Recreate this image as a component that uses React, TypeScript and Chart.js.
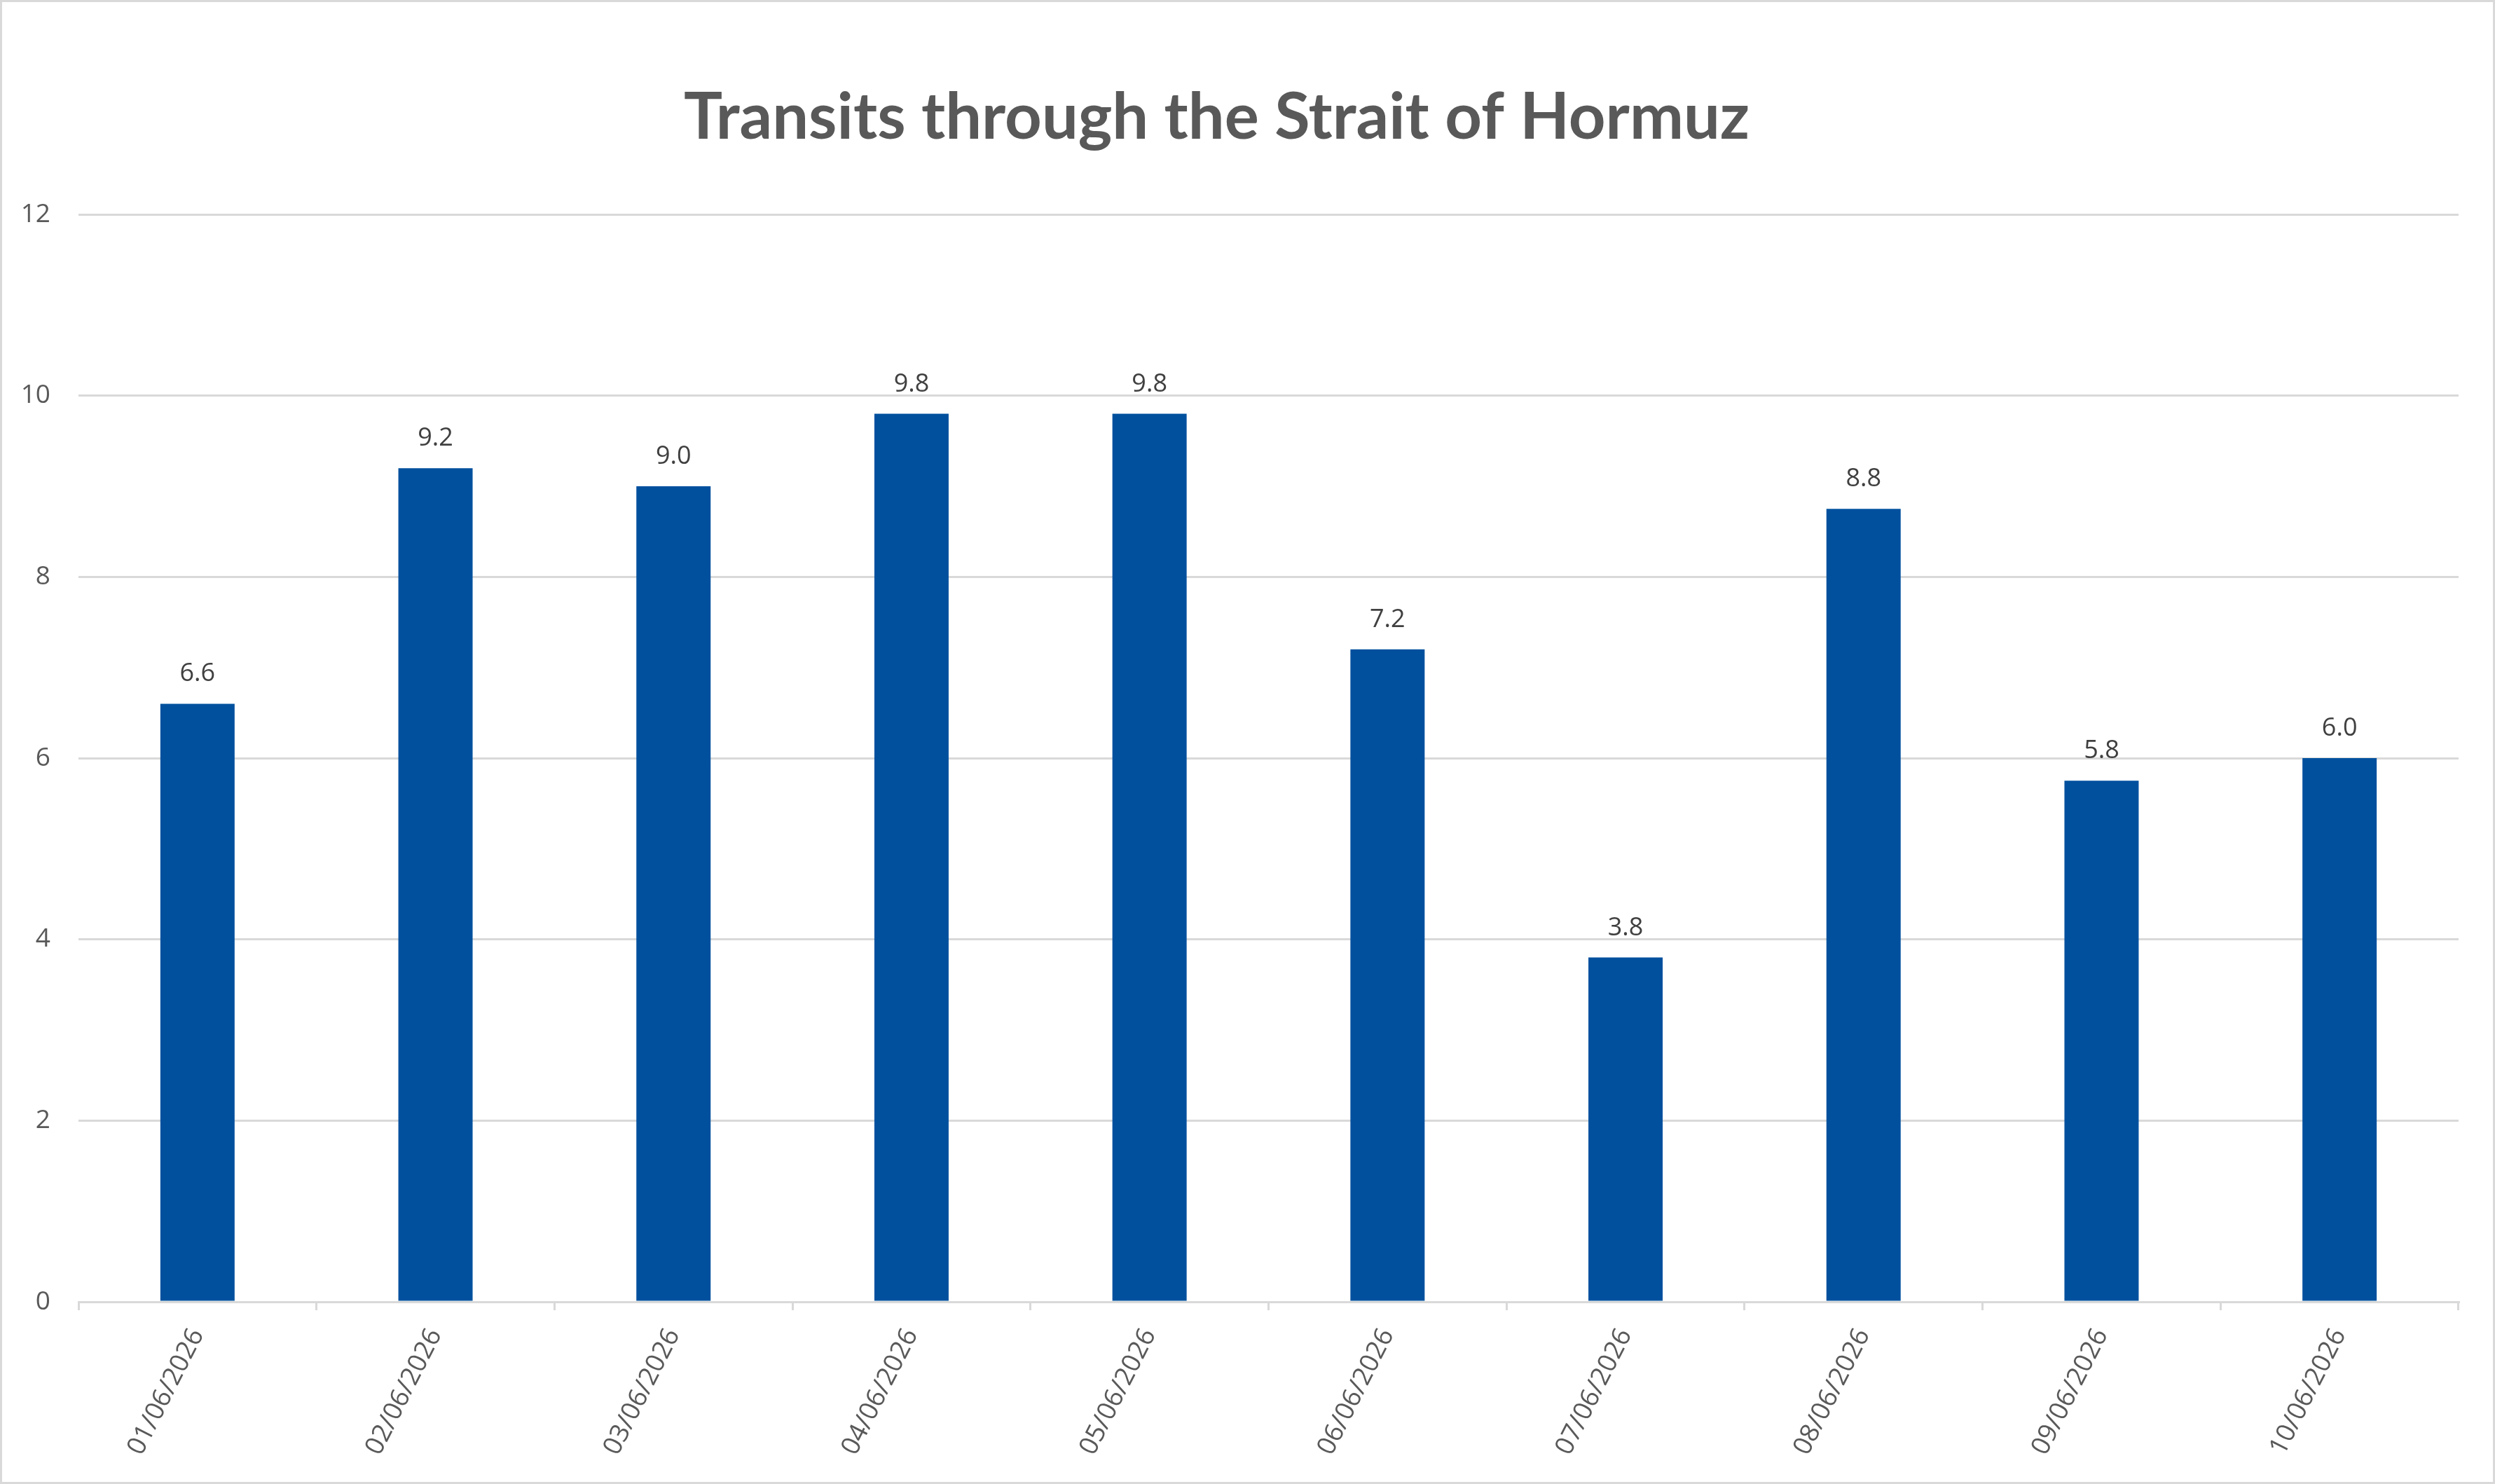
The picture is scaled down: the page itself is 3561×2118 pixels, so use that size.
import { useEffect, useRef } from "react";
import { Chart, registerables } from "chart.js";

Chart.register(...registerables);

const W = 3561;
const H = 2118;

const dates = [
  "01/06/2026",
  "02/06/2026",
  "03/06/2026",
  "04/06/2026",
  "05/06/2026",
  "06/06/2026",
  "07/06/2026",
  "08/06/2026",
  "09/06/2026",
  "10/06/2026",
];
const transits = [6.6, 9.2, 9.0, 9.8, 9.8, 7.2, 3.8, 8.75, 5.75, 6.0];
const yTicks = [0, 2, 4, 6, 8, 10, 12];

const BLUE = "#00509E";
const GRID = "#d9d9d9";
const TEXT = "#595959";
const LABEL_FONT = "'Open Sans', sans-serif";

// white background + light frame like the spreadsheet chart area
const framePlugin = {
  id: "frame",
  afterLayout(chart: Chart) {
    // title sits a little left of the plot centre in the original
    const tb = (chart as any).titleBlock;
    if (tb) {
      tb.left -= 18;
      tb.right -= 18;
    }
  },
  beforeDraw(chart: Chart) {
    const { ctx } = chart;
    ctx.save();
    ctx.fillStyle = "#ffffff";
    ctx.fillRect(0, 0, chart.width, chart.height);
    ctx.restore();
  },
  afterDraw(chart: Chart) {
    const { ctx } = chart;
    ctx.save();
    ctx.strokeStyle = GRID;
    ctx.lineWidth = 3;
    ctx.strokeRect(1.5, 1.5, chart.width - 3, chart.height - 3);
    ctx.restore();
  },
};

// value above each bar
const valueLabelPlugin = {
  id: "valueLabels",
  afterDatasetsDraw(chart: Chart) {
    const { ctx } = chart;
    const meta = chart.getDatasetMeta(0);
    ctx.save();
    ctx.font = `36px ${LABEL_FONT}`;
    ctx.fillStyle = "#404040";
    ctx.textAlign = "center";
    ctx.textBaseline = "alphabetic";
    meta.data.forEach((bar, i) => {
      ctx.fillText(transits[i].toFixed(1), bar.x, bar.y - 32);
    });
    ctx.restore();
  },
};

export default function App() {
  const canvasRef = useRef<HTMLCanvasElement>(null);

  useEffect(() => {
    if (!canvasRef.current) return;
    const chart = new Chart(canvasRef.current, {
      type: "bar",
      data: {
        labels: dates,
        datasets: [
          {
            data: transits,
            backgroundColor: BLUE,
            borderWidth: 0,
            categoryPercentage: 1,
            barPercentage: 0.312,
          },
        ],
      },
      options: {
        responsive: false,
        devicePixelRatio: 1,
        animation: false,
        layout: { padding: { left: 0, right: 52, top: 0, bottom: 0 } },
        plugins: {
          legend: { display: false },
          tooltip: { enabled: false },
          title: {
            display: true,
            text: "Transits through the Strait of Hormuz",
            color: TEXT,
            font: { family: "Lato, sans-serif", size: 92, weight: "bold", lineHeight: 1.2 },
            padding: { top: 113, bottom: 82.6 },
          },
        },
        scales: {
          x: {
            offset: true,
            grid: {
              display: true,
              drawOnChartArea: false,
              drawTicks: true,
              tickLength: 12,
              color: GRID,
              lineWidth: 3,
              offset: true,
            },
            border: { display: true, color: GRID, width: 3 },
            ticks: {
              autoSkip: false,
              minRotation: 63,
              maxRotation: 63,
              padding: 19,
              color: TEXT,
              font: { family: LABEL_FONT, size: 37 },
            },
            afterFit: (scale) => {
              scale.height = H - 1858;
            },
          },
          y: {
            min: yTicks[0],
            max: yTicks[yTicks.length - 1],
            ticks: {
              stepSize: yTicks[1] - yTicks[0],
              padding: 40,
              color: TEXT,
              font: { family: LABEL_FONT, size: 37 },
            },
            grid: { color: GRID, lineWidth: 3, drawTicks: false },
            border: { display: false },
            afterFit: (scale) => {
              scale.width = 112;
            },
          },
        },
      },
      plugins: [framePlugin, valueLabelPlugin],
    });
    return () => chart.destroy();
  }, []);

  return (
    <div style={{ position: "absolute", left: 0, top: 0, width: W, height: H }}>
      <canvas ref={canvasRef} width={W} height={H} />
    </div>
  );
}
